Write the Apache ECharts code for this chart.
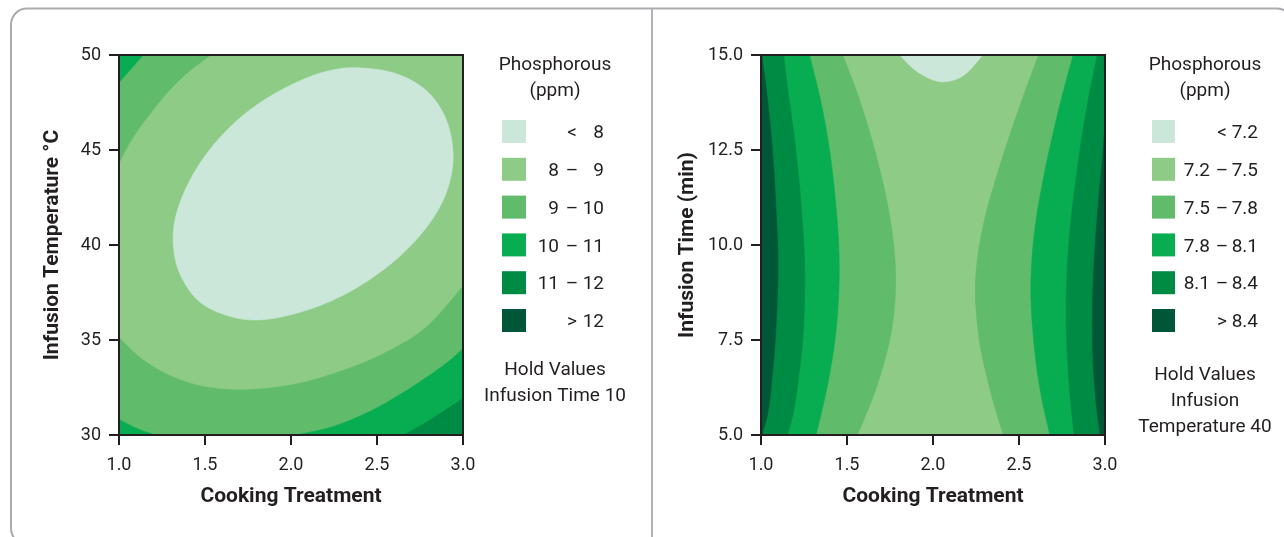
<!DOCTYPE html>
<html>
<head>
<meta charset="utf-8">
<script src="https://cdn.jsdelivr.net/npm/echarts@6/dist/echarts.min.js"></script>
<style>
html,body{margin:0;padding:0;background:#fff;}
#chart{width:1284px;height:537px;}
</style>
</head>
<body>
<div id="chart"></div>
<script>
// ---------- data ----------
const xTicksCooking = [1.0, 3.0, 0.5];           // min, max, interval
const yTicksTemp = [30, 50, 5];
const yTicksTime = [5, 15, 2.5];

const palette = ['#cbe7d9', '#8dcb86', '#60bb6b', '#09ad51', '#008b44', '#005738'];

const leftLegendBins = [[null, '8'], ['8', '9'], ['9', '10'], ['10', '11'], ['11', '12'], ['12', null]];
const rightLegendBins = [[null, '7.2'], ['7.2', '7.5'], ['7.5', '7.8'], ['7.8', '8.1'], ['8.1', '8.4'], ['8.4', null]];
const leftHoldText = ['Hold Values', 'Infusion Time 10'];
const rightHoldText = ['Hold Values', 'Infusion', 'Temperature 40'];

// Left panel contour boundaries: [Cooking Treatment, Infusion Temperature]
const leftEllipse8 = [[2.378,49.33],[2.610,49.02],[2.790,48.10],[2.900,46.65],[2.942,44.87],[2.919,43.21],[2.842,41.64],[2.706,40.06],[2.532,38.66],[2.320,37.44],[2.088,36.56],[1.837,36.07],[1.643,36.25],[1.470,37.00],[1.363,38.31],[1.319,39.71],[1.325,41.29],[1.392,43.04],[1.508,44.79],[1.663,46.36],[1.837,47.59],[2.030,48.55],[2.204,49.13]];
const leftLevel9Upper = [[1.0,44.26],[1.073,45.49],[1.160,46.62],[1.276,47.94],[1.392,48.99],[1.537,50.0]];
const leftLevel9Lower = [[1.0,35.16],[1.122,34.11],[1.276,33.24],[1.470,32.62],[1.701,32.41],[1.972,32.62],[2.243,33.24],[2.532,34.29],[2.784,35.69],[3.0,37.87]];
const leftLevel10TopLeft = [[1.0,48.55],[1.073,49.30],[1.141,50.0]];
const leftLevel10BottomRight = [[2.030,30.0],[2.243,30.44],[2.474,31.31],[2.706,32.54],[2.900,33.76],[3.0,34.55]];
const leftLevel11BottomRight = [[2.658,30.0],[2.822,30.87],[3.0,31.92]];
const leftLevel10BottomLeft = [[1.0,30.82],[1.102,30.35],[1.209,30.0]];

// Right panel contour boundaries: [Cooking Treatment, Infusion Time]
const rightLevel75Left = [[1.475,15],[1.575,13.79],[1.672,12.31],[1.749,10.73],[1.782,9.24],[1.759,7.76],[1.672,6.27],[1.560,5]];
const rightLevel78Left = [[1.282,15],[1.363,13.44],[1.421,11.69],[1.454,9.68],[1.440,7.93],[1.392,6.44],[1.320,5]];
const rightLevel81Left = [[1.131,15],[1.160,13.95],[1.199,12.63],[1.228,11.32],[1.253,9.56],[1.247,7.81],[1.218,6.49],[1.189,5.61],[1.154,5]];
const rightLevel84Left = [[1.004,15],[1.035,13.95],[1.064,12.63],[1.083,11.32],[1.099,9.56],[1.087,7.81],[1.064,6.49],[1.041,5.61],[1.005,5]];
const rightLevel72Top = [[1.807,15],[1.903,14.58],[2.039,14.30],[2.174,14.45],[2.290,15]];
const rightLevel75Right = [[2.614,15],[2.502,13.62],[2.386,12.04],[2.290,10.47],[2.247,8.98],[2.270,7.49],[2.338,6.09],[2.409,5]];
const rightLevel78Right = [[2.815,15],[2.734,13.62],[2.647,11.87],[2.589,10.29],[2.569,8.81],[2.589,7.32],[2.627,6.09],[2.680,5]];
const rightLevel81Right = [[2.955,15],[2.890,13.51],[2.832,11.76],[2.789,10.0],[2.774,8.25],[2.789,6.49],[2.820,5]];
const rightLevel84Right = [[3.0,13.16],[2.983,12.19],[2.957,10.88],[2.932,9.12],[2.928,7.37],[2.944,6.05],[2.971,5]];

// ---------- region assembly ----------
const [xMin, xMax] = xTicksCooking;
const [tMin, tMax] = yTicksTemp;
const [hMin, hMax] = yTicksTime;
const rev = a => a.slice().reverse();

const leftRegions = [
  {color: palette[2], parts: [{pts: [[xMin,tMin],[xMax,tMin],[xMax,tMax],[xMin,tMax]]}]},
  {color: palette[1], parts: [{pts: leftLevel9Upper, curve: true}, {pts: [[xMax,tMax]]}, {pts: rev(leftLevel9Lower), curve: true}]},
  {color: palette[0], parts: [{pts: leftEllipse8, curve: true, closed: true}]},
  {color: palette[3], parts: [{pts: leftLevel10TopLeft, curve: true}, {pts: [[xMin,tMax]]}]},
  {color: palette[3], parts: [{pts: leftLevel10BottomRight, curve: true}, {pts: [[xMax,tMin]]}]},
  {color: palette[4], parts: [{pts: leftLevel11BottomRight, curve: true}, {pts: [[xMax,tMin]]}]},
  {color: palette[3], parts: [{pts: leftLevel10BottomLeft, curve: true}, {pts: [[xMin,tMin]]}]}
];
const rightRegions = [
  {color: palette[1], parts: [{pts: [[xMin,hMin],[xMax,hMin],[xMax,hMax],[xMin,hMax]]}]},
  {color: palette[2], parts: [{pts: rightLevel75Left, curve: true}, {pts: [[xMin,hMin],[xMin,hMax]]}]},
  {color: palette[3], parts: [{pts: rightLevel78Left, curve: true}, {pts: [[xMin,hMin],[xMin,hMax]]}]},
  {color: palette[4], parts: [{pts: rightLevel81Left, curve: true}, {pts: [[xMin,hMin],[xMin,hMax]]}]},
  {color: palette[5], parts: [{pts: rightLevel84Left, curve: true}]},
  {color: palette[2], parts: [{pts: rightLevel75Right, curve: true}, {pts: [[xMax,hMin],[xMax,hMax]]}]},
  {color: palette[3], parts: [{pts: rightLevel78Right, curve: true}, {pts: [[xMax,hMin],[xMax,hMax]]}]},
  {color: palette[4], parts: [{pts: rightLevel81Right, curve: true}, {pts: [[xMax,hMin],[xMax,hMax]]}]},
  {color: palette[5], parts: [{pts: rightLevel84Right, curve: true}, {pts: [[xMax,hMin]]}]},
  {color: palette[0], parts: [{pts: rightLevel72Top, curve: true}]}
];

// smooth curve through the read points (Catmull-Rom drawn as sampled Bezier)
function sampleCurve(pix, closed) {
  const n = pix.length, out = [];
  const get = i => closed ? pix[(i + n) % n] : pix[Math.max(0, Math.min(n - 1, i))];
  const segs = closed ? n : n - 1;
  for (let i = 0; i < segs; i++) {
    const p0 = get(i - 1), p1 = get(i), p2 = get(i + 1), p3 = get(i + 2);
    const c1 = [p1[0] + (p2[0] - p0[0]) / 6, p1[1] + (p2[1] - p0[1]) / 6];
    const c2 = [p2[0] - (p3[0] - p1[0]) / 6, p2[1] - (p3[1] - p1[1]) / 6];
    for (let k = 0; k < 14; k++) {
      const t = k / 14, u = 1 - t;
      const a = u*u*u, b = 3*u*u*t, c = 3*u*t*t, d = t*t*t;
      out.push([a*p1[0] + b*c1[0] + c*c2[0] + d*p2[0], a*p1[1] + b*c1[1] + c*c2[1] + d*p2[1]]);
    }
  }
  if (!closed) out.push(pix[n - 1]);
  return out;
}
function regionPoints(parts, api) {
  let pts = [];
  parts.forEach(part => {
    const pix = part.pts.map(p => api.coord(p));
    pts = pts.concat(part.curve ? sampleCurve(pix, part.closed) : pix);
  });
  return pts;
}
function makeRender(regions) {
  return function (params, api) {
    const r = regions[params.dataIndex];
    return {type: 'polygon', shape: {points: regionPoints(r.parts, api)}, style: {fill: r.color, stroke: r.color, lineWidth: 0.6}};
  };
}

// ---------- styling ----------
const INK = '#231f20';
const FONT = 'Roboto, "Noto Sans", sans-serif';

function valueAxis(range, gridIndex, position, labelFmt, name, nameGap, showLabels) {
  return {
    type: 'value', gridIndex, position,
    min: range[0], max: range[1], interval: range[2],
    z: 10,
    axisLine: {show: true, onZero: false, lineStyle: {color: INK, width: 2}},
    axisTick: {show: showLabels, length: 10, lineStyle: {color: INK, width: 2}},
    axisLabel: {show: showLabels, formatter: labelFmt, color: INK, fontSize: 18, fontFamily: FONT, margin: position === 'bottom' ? 21 : 18},
    splitLine: {show: false},
    name: showLabels ? name : '',
    nameLocation: 'middle', nameGap,
    nameTextStyle: {color: INK, fontSize: 21, fontWeight: 'bold', fontFamily: FONT}
  };
}

function legendGraphics(cx, swX, swW, col1R, dashC, col2R, bins, holdLines, holdY0, holdStep) {
  const g = [];
  const tf = '19px ' + FONT;
  g.push({type: 'text', x: cx, y: 65, style: {text: 'Phosphorous', font: tf, fill: INK, align: 'center', verticalAlign: 'middle'}});
  g.push({type: 'text', x: cx, y: 91, style: {text: '(ppm)', font: tf, fill: INK, align: 'center', verticalAlign: 'middle'}});
  bins.forEach((b, i) => {
    const y = 120 + i * 37.8;
    const cy = y + 13.5;
    g.push({type: 'rect', shape: {x: swX, y: y, width: swW, height: 23}, style: {fill: palette[i]}});
    if (b[0] === null) {
      g.push({type: 'text', x: dashC, y: cy, style: {text: '<', font: tf, fill: INK, align: 'center', verticalAlign: 'middle'}});
      g.push({type: 'text', x: col2R, y: cy, style: {text: b[1], font: tf, fill: INK, align: 'right', verticalAlign: 'middle'}});
    } else if (b[1] === null) {
      g.push({type: 'text', x: dashC, y: cy, style: {text: '>', font: tf, fill: INK, align: 'center', verticalAlign: 'middle'}});
      g.push({type: 'text', x: col2R, y: cy, style: {text: b[0], font: tf, fill: INK, align: 'right', verticalAlign: 'middle'}});
    } else {
      g.push({type: 'text', x: col1R, y: cy, style: {text: b[0], font: tf, fill: INK, align: 'right', verticalAlign: 'middle'}});
      g.push({type: 'text', x: dashC, y: cy, style: {text: '\u2013', font: tf, fill: INK, align: 'center', verticalAlign: 'middle'}});
      g.push({type: 'text', x: col2R, y: cy, style: {text: b[1], font: tf, fill: INK, align: 'right', verticalAlign: 'middle'}});
    }
  });
  holdLines.forEach((t, i) => {
    g.push({type: 'text', x: cx, y: holdY0 + i * holdStep, style: {text: t, font: tf, fill: INK, align: 'center', verticalAlign: 'middle'}});
  });
  return g;
}

const graphics = [
  {type: 'rect', shape: {x: 11, y: 8.5, width: 1282, height: 536, r: 16}, style: {fill: 'none', stroke: '#a9abae', lineWidth: 2}, z: 0},
  {type: 'line', shape: {x1: 652, y1: 9, x2: 652, y2: 537}, style: {stroke: '#b1b1b5', lineWidth: 2}, z: 0}
].concat(
  legendGraphics(555, 502, 24, 559, 572, 604, leftLegendBins, leftHoldText, 370, 26),
  legendGraphics(1205, 1152, 23, 1210, 1222, 1258, rightLegendBins, rightHoldText, 375, 26)
);

const fmt1 = v => v.toFixed(1);
const fmt0 = v => String(v);

const option = {
  animation: false,
  backgroundColor: '#ffffff',
  grid: [
    {left: 119, top: 55, width: 344, height: 380},
    {left: 761, top: 55, width: 344, height: 380}
  ],
  xAxis: [
    valueAxis(xTicksCooking, 0, 'bottom', fmt1, 'Cooking Treatment', 51, true),
    valueAxis(xTicksCooking, 1, 'bottom', fmt1, 'Cooking Treatment', 51, true),
    valueAxis(xTicksCooking, 0, 'top', fmt1, '', 0, false),
    valueAxis(xTicksCooking, 1, 'top', fmt1, '', 0, false)
  ],
  yAxis: [
    valueAxis(yTicksTemp, 0, 'left', fmt0, 'Infusion Temperature \u00b0C', 56, true),
    valueAxis(yTicksTime, 1, 'left', fmt1, 'Infusion Time (min)', 63, true),
    valueAxis(yTicksTemp, 0, 'right', fmt0, '', 0, false),
    valueAxis(yTicksTime, 1, 'right', fmt1, '', 0, false)
  ],
  series: [
    {type: 'custom', xAxisIndex: 0, yAxisIndex: 0, clip: true, silent: true, z: 2,
     data: leftRegions.map((r, i) => i), renderItem: makeRender(leftRegions)},
    {type: 'custom', xAxisIndex: 1, yAxisIndex: 1, clip: true, silent: true, z: 2,
     data: rightRegions.map((r, i) => i), renderItem: makeRender(rightRegions)}
  ],
  graphic: graphics
};

const chart = echarts.init(document.getElementById('chart'), null, {renderer: 'canvas'});
chart.setOption(option);
</script>
</body>
</html>
